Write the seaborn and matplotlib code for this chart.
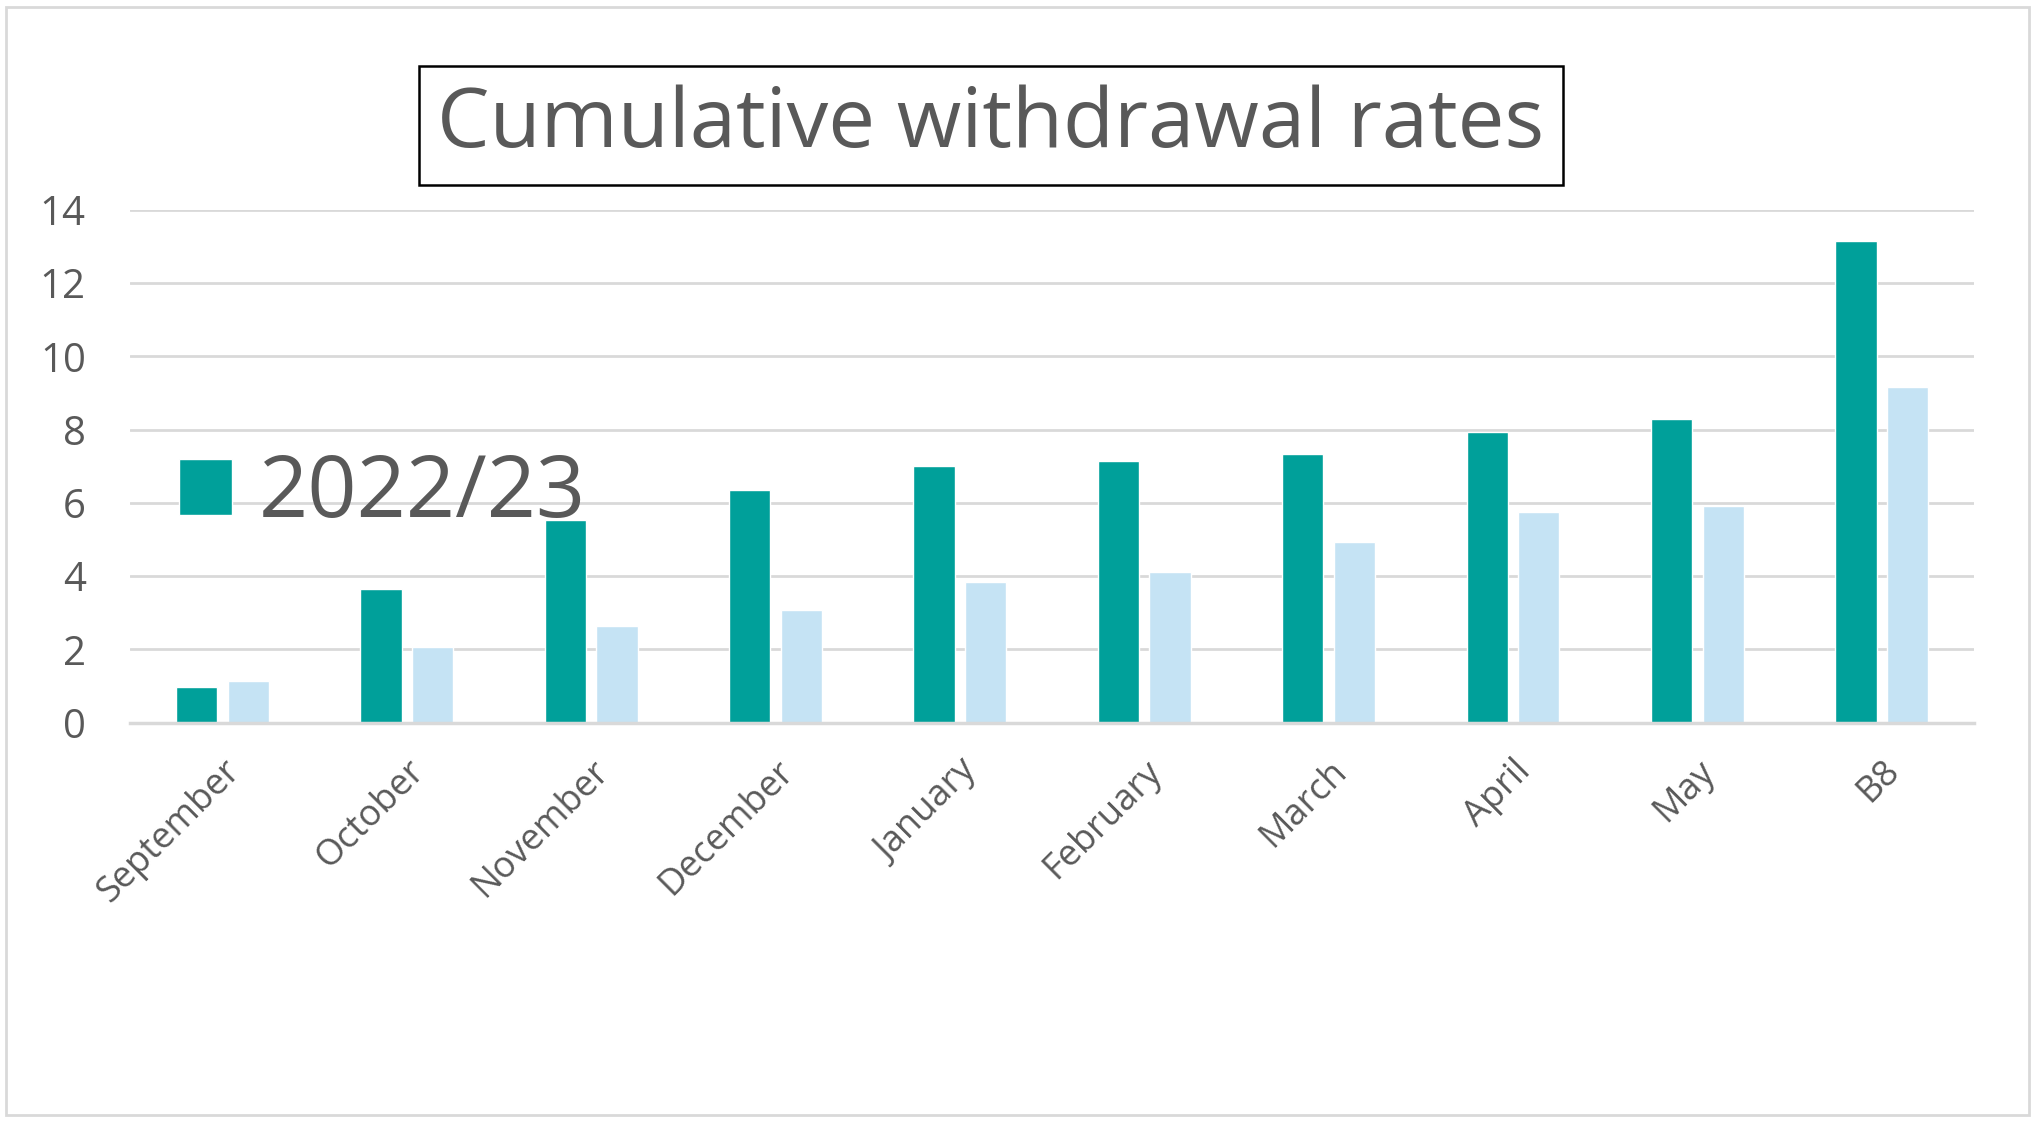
import pandas as pd
import matplotlib.pyplot as plt
import seaborn as sns
from matplotlib.patches import Rectangle

# Data
months = ['September', 'October', 'November', 'December', 'January',
          'February', 'March', 'April', 'May', 'B8']
rate_2022 = [0.96, 3.66, 5.54, 6.36, 7.0, 7.14, 7.32, 7.92, 8.28, 13.15]
rate_2023 = [1.14, 2.06, 2.63, 3.06, 3.84, 4.12, 4.94, 5.76, 5.9, 9.17]
series = ['2022/23', '2023/24']

df = pd.DataFrame({
    'Month': months * 2,
    'Rate': rate_2022 + rate_2023,
    'Year': [series[0]] * len(months) + [series[1]] * len(months),
})

sns.set_style('white')
plt.rcParams['font.family'] = ['Open Sans', 'DejaVu Sans']
grey = '#595959'

fig = plt.figure(figsize=(20.35, 11.22), dpi=100)
ax = fig.add_axes([0.064, 0.356, 0.906, 0.457])

sns.barplot(data=df, x='Month', y='Rate', hue='Year', order=months,
            palette=['#00A09A', '#C5E3F4'], width=0.56, gap=0.2,
            saturation=1, ax=ax)

ax.set_ylim(0, 14)
ax.set_xlim(-0.5, len(months) - 0.5)
ax.set_yticks(range(0, 15, 2))
ax.yaxis.grid(True, color='#d9d9d9', linewidth=2)
ax.set_axisbelow(True)
for side in ['top', 'right', 'left']:
    ax.spines[side].set_visible(False)
ax.spines['bottom'].set_color('#d9d9d9')
ax.spines['bottom'].set_linewidth(2.5)
ax.set_xlabel('')
ax.set_ylabel('')
ax.tick_params(axis='y', length=0, pad=32, labelsize=29, labelcolor=grey)
ax.tick_params(axis='x', length=0, pad=22, labelsize=26, labelcolor=grey)
plt.setp(ax.get_xticklabels(), rotation=45, ha='right', rotation_mode='anchor')

# only the first series shows in the legend
handles, labels = ax.get_legend_handles_labels()
ax.get_legend().remove()
fig.legend(handles[:1], labels[:1], loc='center left',
           bbox_to_anchor=(0.088, 0.559), frameon=False, fontsize=62,
           labelcolor=grey, handlelength=0.62, handleheight=0.62,
           handletextpad=0.3, borderpad=0, borderaxespad=0)

fig.text(0.487, 0.888, 'Cumulative withdrawal rates', ha='center', va='center',
         fontsize=60, color=grey,
         bbox=dict(boxstyle='square,pad=0.22', facecolor='white',
                   edgecolor='black', linewidth=1.8))

fig.patches.append(Rectangle((0.003, 0.006), 0.994, 0.988, transform=fig.transFigure,
                             fill=False, edgecolor='#d9d9d9', linewidth=2))

fig.savefig('out.png', dpi=100)
